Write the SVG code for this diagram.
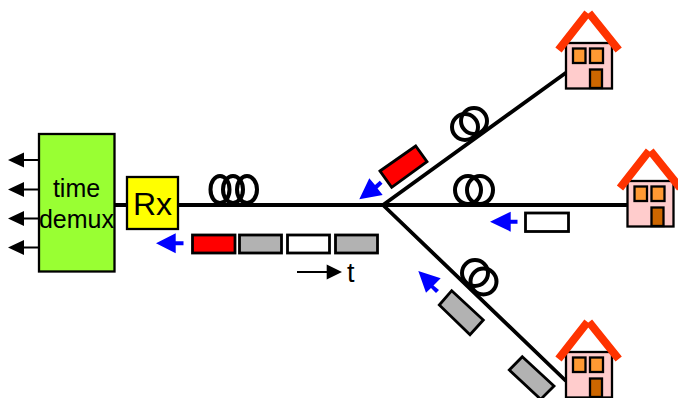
<svg xmlns="http://www.w3.org/2000/svg" width="678" height="398" viewBox="0 0 678 398">
<style>
text{font-family:"Liberation Sans",Arial,sans-serif;fill:#000}
.fiber{fill:none;stroke:#000;stroke-width:3.8}
.coil{fill:none;stroke:#000;stroke-width:4}
.thin{fill:none;stroke:#000;stroke-width:2}
.box{stroke:#000;stroke-width:2.300}
.pkt{stroke:#000;stroke-width:2.800}
.roof{fill:none;stroke:#FF3300;stroke-width:8}
.win{fill:#FF9933;stroke:#000;stroke-width:2.300}
.door{fill:#CC6600;stroke:#000;stroke-width:2.300}
.wall{fill:#FFCCCC;stroke:#000;stroke-width:2.300}
.blue{fill:#0000FF}
</style>
<defs>
<g id="house">
<rect class="wall" x="566" y="43" width="46" height="45.500"/>
<path class="roof" d="M558.500 50L587.500 13M589 13L618.700 50"/>
<rect class="win" x="573" y="48.500" width="12.500" height="14.500"/>
<rect class="win" x="590" y="48.500" width="13" height="14.500"/>
<rect class="door" x="590" y="69.500" width="12" height="18.500"/>
</g>
</defs>
<g id="connectors">
<path class="fiber" d="M114 205H383M383 205L567 72M383 205H627M383 205L566 381"/>
<path class="thin" d="M22 160H38M22 189.500H38M22 218.500H38M22 247.500H38M297 272H332"/>
<path d="M8 160L24 152.500V167.500ZM8 189.500L24 182V197ZM8 218.500L24 211V226ZM8 247.500L24 240V255ZM342 272L326.700 264.500V279.500Z" fill="#000"/>
</g>
<g id="coil-main" class="coil"><ellipse cx="220" cy="189.500" rx="9.500" ry="13.500"/><ellipse cx="233" cy="189.500" rx="10" ry="13.500"/><ellipse cx="247" cy="189.500" rx="10" ry="13.500"/></g>
<g id="coil-top" class="coil"><circle cx="465" cy="127" r="13"/><circle cx="474" cy="121" r="13"/></g>
<g id="coil-mid" class="coil"><ellipse cx="468" cy="190" rx="13" ry="14"/><ellipse cx="480" cy="190" rx="13" ry="14"/></g>
<g id="coil-low" class="coil"><circle cx="475" cy="273" r="13"/><circle cx="483.500" cy="281.500" r="13"/></g>
<g id="demux"><rect class="box" x="39" y="134" width="75.500" height="137.500" fill="#99FF33"/>
<text x="76.500" y="197" font-size="25" text-anchor="middle">time</text>
<text x="76.500" y="228" font-size="25" text-anchor="middle">demux</text></g>
<g id="rx"><rect class="box" x="127" y="177" width="51" height="52" fill="#FFFF00"/>
<text x="152.500" y="215" font-size="32" text-anchor="middle">Rx</text></g>
<g id="house-top"><use href="#house"/></g>
<g id="house-mid"><use href="#house" x="61.500" y="138"/></g>
<g id="house-low"><use href="#house" y="309"/></g>
<g id="packets">
<rect class="pkt" x="192.500" y="235" width="42.500" height="18" fill="#FF0000"/>
<rect class="pkt" x="239.500" y="235" width="42" height="18" fill="#B2B2B2"/>
<rect class="pkt" x="287.500" y="235" width="42" height="18" fill="#FFFFFF"/>
<rect class="pkt" x="335.500" y="235" width="42" height="18" fill="#B2B2B2"/>
<rect class="pkt" x="525.500" y="213" width="43" height="18.500" fill="#FFFFFF"/>
<polygon class="pkt" points="380,171 415.700,146 427,161.700 391.700,187.300" fill="#FF0000"/>
<polygon class="pkt" points="451.700,290.700 483.300,320 470,334.700 439.300,305" fill="#B2B2B2"/>
<polygon class="pkt" points="522.300,356.700 554,386 540.700,399.300 509.300,370" fill="#B2B2B2"/>
</g>
<g id="flow-arrows">
<polygon class="blue" points="156,243.300 175.700,233.300 175.700,241.300 183.500,241.300 183.500,245.300 175.700,245.300 175.700,253.300"/>
<polygon class="blue" points="490,221.700 510.700,211.700 510.700,219.700 517.500,219.700 517.500,223.700 510.700,223.700 510.700,231.700"/>
<polygon class="blue" points="359.300,199.300 369.300,178.300 375,185 379.800,180.800 382.500,183.800 377.500,188.500 382.700,195"/>
<polygon class="blue" points="418.300,271 440.700,278.300 433.500,285.500 439,290 436,293 431,288 426,292.700"/>
</g>
<g id="time-label"><text x="347" y="281.500" font-size="27">t</text></g>
</svg>
